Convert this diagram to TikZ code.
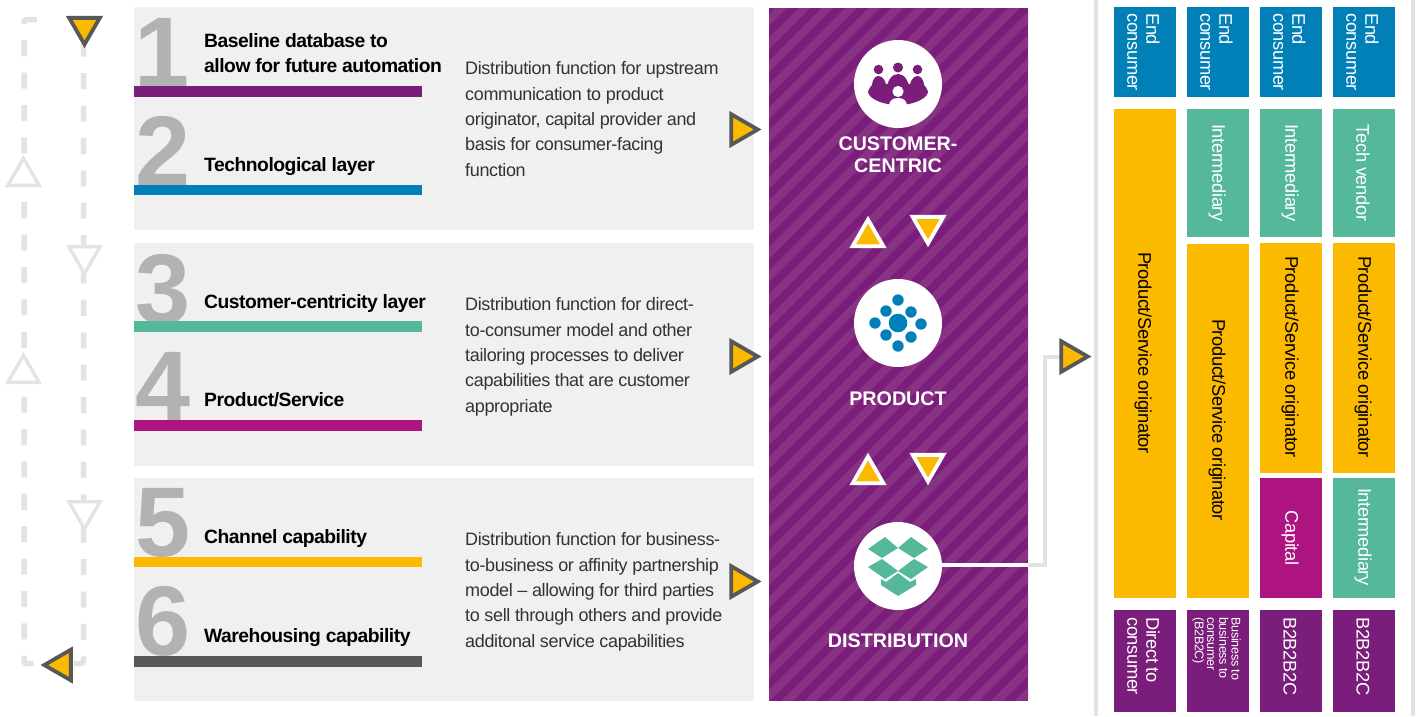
\documentclass[tikz,border=0pt]{standalone}
\usepackage{fontspec}
\setmainfont{Liberation Sans}
\newfontfamily\tightfont[LetterSpace=-2]{Liberation Sans}
\newfontfamily\tightbold[LetterSpace=-2.5]{Liberation Sans Bold}
\usetikzlibrary{shapes.geometric}
\definecolor{cPurple}{HTML}{7B1D7A}
\definecolor{cStripe}{HTML}{883283}
\definecolor{cBlue}{HTML}{0080B7}
\definecolor{cGreen}{HTML}{55B89B}
\definecolor{cYellow}{HTML}{FBB900}
\definecolor{cMagenta}{HTML}{AD1480}
\definecolor{cDark}{HTML}{585857}
\definecolor{cPanel}{HTML}{F0F0F0}
\definecolor{cDigit}{HTML}{B2B2B2}
\definecolor{cLine}{HTML}{E3E3E3}
\definecolor{cBody}{HTML}{333333}
\tikzset{
  rectbox/.style={anchor=north west,inner sep=0pt,outer sep=0pt,draw=none},
  tribase/.style={regular polygon,regular polygon sides=3,minimum size=35.4pt,inner sep=0pt,outer sep=0pt,line width=3.8pt,miter limit=10},
  activetri/.style={tribase,draw=cDark,fill=cYellow},
  whitetri/.style={tribase,draw=white,fill=cYellow},
  ghosttri/.style={tribase,draw=cLine,fill=white,line width=3.4pt,minimum size=36pt},
  ptdown/.style={shape border rotate=180},
  ptright/.style={shape border rotate=-90},
  ptleft/.style={shape border rotate=90},
  digit/.style={anchor=base west,inner sep=0pt,text=cDigit,font=\fontsize{99}{99}\selectfont\bfseries},
  head/.style={anchor=base west,inner sep=0pt,text=black,align=left,font=\fontsize{19.3}{25}\tightbold},
  body/.style={anchor=base west,inner sep=0pt,text=cBody,align=left,font=\fontsize{18}{25.3}\tightfont},
  hub/.style={circle,fill=white,minimum size=88pt,inner sep=0pt,outer sep=0pt},
  hublabel/.style={anchor=base,inner sep=0pt,text=white,align=center,font=\fontsize{19.7}{22}\selectfont\bfseries},
  vtext/.style={rotate=-90,inner sep=0pt,align=left,font=\fontsize{18.3}{19}\tightfont},
  vsmall/.style={rotate=-90,inner sep=0pt,align=left,font=\fontsize{12.6}{12.3}\tightfont},
  dashline/.style={draw=cLine,line width=5.5pt,dash pattern=on 16pt off 16.4pt,rounded corners=2.5pt},
  framerule/.style={draw=cLine,line width=4pt},
}
\newcommand{\rbox}[6]{% name x0 y0 x1 y1 fill
  \node[rectbox,fill=#6,minimum width={(#4-#2)*1pt},minimum height={(#5-#3)*1pt}] (#1) at (#2,#3) {};}
\begin{document}
\begin{tikzpicture}[x=1pt,y=-1pt]
\useasboundingbox (0,0) rectangle (1426,716);
% panels
\rbox{panelA}{134}{7}{754}{230}{cPanel}
\rbox{panelB}{134}{243}{754}{466}{cPanel}
\rbox{panelC}{134}{478}{754}{701}{cPanel}
% digits
\node[digit] (d1) at (134,86) {1};
\node[digit] (d2) at (135,185) {2};
\node[digit] (d3) at (135,323) {3};
\node[digit] (d4) at (135,420) {4};
\node[digit] (d5) at (135,556) {5};
\node[digit] (d6) at (135,655) {6};
% bars
\rbox{barA}{134}{86}{422}{97}{cPurple}
\rbox{barB}{134}{185}{422}{195}{cBlue}
\rbox{barC}{134}{321}{422}{332}{cGreen}
\rbox{barD}{134}{420}{422}{431}{cMagenta}
\rbox{barE}{134}{557}{422}{567}{cYellow}
\rbox{barF}{134}{656}{422}{667}{cDark}
% headings
\node[head] (h1) at (204,72) {Baseline database to\\allow for future automation};
\node[head] (h2) at (204,171) {Technological layer};
\node[head] (h3) at (204,308) {Customer-centricity layer};
\node[head] (h4) at (204,406) {Product/Service};
\node[head] (h5) at (204,543) {Channel capability};
\node[head] (h6) at (204,642) {Warehousing capability};
% body
\node[body] (t1) at (465,176) {Distribution function for upstream\\communication to product\\originator, capital provider and\\basis for consumer-facing\\function};
\node[body] (t2) at (465,412) {Distribution function for direct-\\to-consumer model and other\\tailoring processes to deliver\\capabilities that are customer\\appropriate};
\node[body] (t3) at (465,647) {Distribution function for business-\\to-business or affinity partnership\\model – allowing for third parties\\to sell through others and provide\\additonal service capabilities};
% striped column
\rbox{column}{769}{8}{1028}{701}{cPurple}
\begin{scope}
\clip (769,8.3) rectangle (1028,700.6);
\foreach \k in {-32,...,13} {
  \draw[cStripe,line width=8.2pt] ({788+23.3*\k-20},720) -- ({788+23.3*\k+712},-12);
}
\end{scope}
% left dashed loop
\coordinate (loopA) at (83.5,40.7);
\coordinate (loopB) at (83.5,663.5);
\coordinate (loopC) at (70,663.5);
\coordinate (loopD) at (33.5,663.5);
\coordinate (loopE) at (24,663.5);
\coordinate (loopF) at (24,19.5);
\coordinate (loopG) at (52,19.5);
\draw[dashline] (loopA) -- (loopB) -- (loopC);
\draw[dashline] (loopD) -- (loopE) -- (loopF) -- (loopG);
\node[ghosttri] (g1) at (23.5,176.3) {};
\node[ghosttri] (g2) at (23.5,373.3) {};
\node[ghosttri,ptdown] (g3) at (84.5,255.7) {};
\node[ghosttri,ptdown] (g4) at (84.5,510.7) {};
\node[activetri,ptdown] (a1) at (84.5,26.7) {};
\node[activetri,ptleft] (a2) at (62,665) {};
% arrows into the column
\node[activetri,ptright] (r1) at (740,129.5) {};
\node[activetri,ptright] (r2) at (740,356.5) {};
\node[activetri,ptright] (r3) at (740,581.5) {};
% hubs
\node[hub] (hubA) at (898,84) {};
\node[hub] (hubB) at (898,323) {};
\node[hub] (hubC) at (898,566) {};
\node[hublabel] (lA) at (898,172) {CUSTOMER-\\CENTRIC};
\node[hublabel] (lB) at (898,405) {PRODUCT};
\node[hublabel] (lC) at (898,647) {DISTRIBUTION};
\node[whitetri] (u1) at (868,237.3) {};
\node[whitetri,ptdown] (v1) at (928,225.7) {};
\node[whitetri] (u2) at (868,474.3) {};
\node[whitetri,ptdown] (v2) at (928,463.7) {};
% people icon
\fill[cPurple] (878.5,69.5) circle[radius=4.8pt] (898,67.5) circle[radius=5pt] (917.5,69.5) circle[radius=4.8pt];
\fill[cPurple] (871.5,92) .. controls (871.5,81) and (874,76) .. (878.5,76)
  .. controls (883,76) and (886.5,81) .. (887,92) -- cycle;
\fill[cPurple] (924.5,92) .. controls (924.5,81) and (922,76) .. (917.5,76)
  .. controls (913,76) and (909.5,81) .. (909,92) -- cycle;
\fill[cPurple] (886,92) .. controls (887,80) and (892,74) .. (898,74)
  .. controls (904,74) and (909,80) .. (910,92) -- cycle;
\fill[cPurple] (868,92) .. controls (869,88) and (871,86) .. (873,84)
  -- (923,84) .. controls (925,86) and (927,88) .. (928,92)
  .. controls (927,99) and (913,105) .. (898,105)
  .. controls (883,105) and (869,99) .. (868,92) -- cycle;
\fill[white] (898,91.5) circle[radius=5.6pt];
\fill[white] (889,106.5) .. controls (889,100) and (893,98) .. (898,98)
  .. controls (903,98) and (907,100) .. (907,106.5) -- cycle;
% network icon
\fill[cBlue] (898,323) circle[radius=9.3pt];
\foreach \px/\py in {898/300,886/311,911/312,875/323,921/324,886/335,911/337,898/346}
  \fill[cBlue] (\px,\py) circle[radius=5.7pt];
% box icon
\fill[cGreen] (868,549) -- (885,537) -- (898,548) -- (882,558) -- cycle;
\fill[cGreen] (928,549) -- (911,537) -- (898,548) -- (914,558) -- cycle;
\fill[cGreen] (868,567) -- (882,559) -- (898,571) -- (885,579) -- cycle;
\fill[cGreen] (928,567) -- (914,559) -- (898,571) -- (911,579) -- cycle;
\fill[cGreen] (881,579) -- (886,582) -- (898,573) -- (910,582) -- (916,579) -- (916,585) -- (898,596) -- (881,585) -- cycle;
% connector to the right
\coordinate (edgeC) at (1028,565);
\coordinate (elbowA) at (1045,565);
\coordinate (elbowB) at (1045,356.5);
\coordinate (elbowC) at (1061,356.5);
\draw[draw=white,line width=3.5pt] (hubC.east |- edgeC) -- (edgeC);
\draw[framerule] (edgeC) -- (elbowA) -- (elbowB) -- (elbowC);
\node[activetri,ptright] (r4) at (1070,356.5) {};
% frame
\coordinate (fa) at (1096,0); \coordinate (fb) at (1096,716);
\coordinate (fc) at (1413,0); \coordinate (fd) at (1413,716);
\draw[framerule] (fa) -- (fb);
\draw[framerule] (fc) -- (fd);
% top row
\rbox{e1}{1114}{7}{1176}{97}{cBlue}
\rbox{e2}{1187}{7}{1249}{97}{cBlue}
\rbox{e3}{1260}{7}{1322}{97}{cBlue}
\rbox{e4}{1333}{7}{1395}{97}{cBlue}
\foreach \n/\cx in {1/1143.5,2/1216.5,3/1289.5,4/1362.5}
  \node[vtext,anchor=west,text=white] (et\n) at (\cx,13) {End\\consumer};
% middle
\rbox{o1}{1114}{109}{1176}{598}{cYellow}
\rbox{i2}{1187}{109}{1249}{237}{cGreen}
\rbox{o2}{1187}{244}{1249}{598}{cYellow}
\rbox{i3}{1260}{109}{1322}{237}{cGreen}
\rbox{o3}{1260}{243}{1322}{473}{cYellow}
\rbox{c3}{1260}{478}{1322}{598}{cMagenta}
\rbox{v4}{1333}{109}{1395}{237}{cGreen}
\rbox{o4}{1333}{243}{1395}{473}{cYellow}
\rbox{i4}{1333}{478}{1395}{598}{cGreen}
\node[vtext,text=black] (to1) at (1143,353) {Product/Service originator};
\node[vtext,text=black] (to2) at (1217,420) {Product/Service originator};
\node[vtext,text=black] (to3) at (1290,357) {Product/Service originator};
\node[vtext,text=black] (to4) at (1363,357) {Product/Service originator};
\node[vtext,text=white] (ti2) at (1217,173) {Intermediary};
\node[vtext,text=white] (ti3) at (1290,173) {Intermediary};
\node[vtext,text=white] (tv4) at (1363,173) {Tech vendor};
\node[vtext,text=white] (tc3) at (1290,538) {Capital};
\node[vtext,text=white] (ti4) at (1363,537) {Intermediary};
% bottom row
\rbox{b1}{1114}{610}{1176}{712}{cPurple}
\rbox{b2}{1187}{610}{1249}{712}{cPurple}
\rbox{b3}{1260}{610}{1322}{712}{cPurple}
\rbox{b4}{1333}{610}{1395}{712}{cPurple}
\node[vtext,anchor=west,text=white] (tb1) at (1143.5,617) {Direct to\\consumer};
\node[vsmall,anchor=west,text=white] (tb2) at (1216.5,617) {Business to\\business to\\consumer\\(B2B2C)};
\node[vtext,anchor=west,text=white] (tb3) at (1290,617) {B2B2B2C};
\node[vtext,anchor=west,text=white] (tb4) at (1363,617) {B2B2B2C};
\end{tikzpicture}
\end{document}
